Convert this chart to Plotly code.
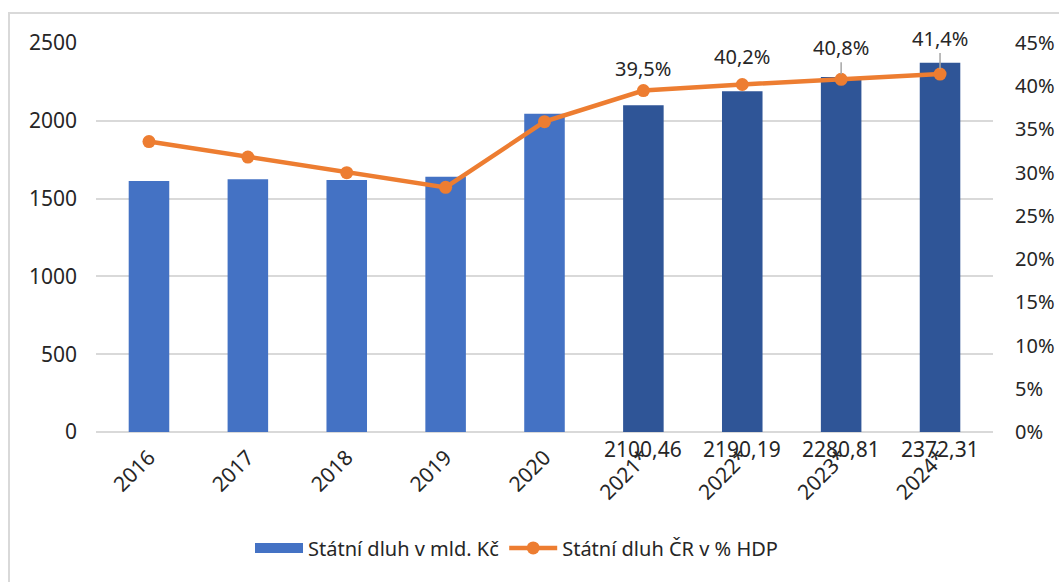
import plotly.graph_objects as go

years = ["2016", "2017", "2018", "2019", "2020", "2021*", "2022*", "2023*", "2024*"]
debt_bn = [1613, 1625, 1620, 1640, 2045, 2100.46, 2190.19, 2280.81, 2372.31]
debt_pct = [33.6, 31.8, 30.0, 28.3, 35.9, 39.5, 40.2, 40.8, 41.4]
forecast = [False, False, False, False, False, True, True, True, True]

bar_name = "Státní dluh v mld. Kč"
line_name = "Státní dluh ČR v % HDP"

C_BAR = "#4472C4"
C_BAR_F = "#2F5597"
C_LINE = "#ED7D31"
GRID = "#D9D9D9"
FONT = "Noto Sans"
TXT = "#262626"

fig = go.Figure()
fig.add_trace(go.Bar(
    x=years, y=debt_bn, name=bar_name, showlegend=False,
    marker=dict(color=[C_BAR_F if f else C_BAR for f in forecast], line=dict(width=0)),
    width=0.41, yaxis="y",
))
# legend proxy for the bar series (wide rectangle symbol)
fig.add_trace(go.Scatter(
    x=[None], y=[None], name=bar_name, mode="lines",
    line=dict(color=C_BAR, width=12), yaxis="y",
))
fig.add_trace(go.Scatter(
    x=years, y=debt_pct, name=line_name, mode="lines+markers",
    line=dict(color=C_LINE, width=4.5),
    marker=dict(color=C_LINE, size=13),
    yaxis="y2",
))

# bar value labels for forecast years (below axis)
for yr, v, f in zip(years, debt_bn, forecast):
    if f:
        fig.add_annotation(
            x=yr, y=0, xref="x", yref="y", text=f"{v:.2f}".replace(".", ","),
            showarrow=False, yanchor="top", yshift=-1,
            font=dict(family=FONT, size=21, color=TXT),
        )

# percentage labels
offsets = {"2021*": (-22, False), "2022*": (-28, False), "2023*": (-32, True), "2024*": (-36, True)}
for yr, p in zip(years, debt_pct):
    if yr in offsets:
        off, arrow = offsets[yr]
        txt = f"{p:.1f}%".replace(".", ",")
        if arrow:
            fig.add_annotation(
                x=yr, y=p, xref="x", yref="y2", text=txt,
                showarrow=True, arrowhead=0, arrowwidth=1.5, arrowcolor="#A6A6A6",
                ax=0, ay=off, standoff=5,
                font=dict(family=FONT, size=20, color=TXT),
            )
        else:
            fig.add_annotation(
                x=yr, y=p, xref="x", yref="y2", text=txt,
                showarrow=False, yshift=-off,
                font=dict(family=FONT, size=20, color=TXT),
            )

# chart border
fig.add_shape(type="rect", xref="paper", yref="paper",
              x0=(9 - 96) / 897, x1=1.3, y0=-0.6, y1=(432 - 13) / 389,
              line=dict(color=GRID, width=2), layer="below")

fig.update_layout(
    width=1059, height=582,
    margin=dict(l=96, r=66, t=43, b=150, autoexpand=False),
    paper_bgcolor="white", plot_bgcolor="white",
    font=dict(family=FONT, size=21, color=TXT),
    bargap=0.59,
    showlegend=True,
    legend=dict(orientation="h", x=(250 - 96) / 897, xanchor="left", y=-0.298, yanchor="middle",
                font=dict(family=FONT, size=20, color=TXT),
                traceorder="normal", itemsizing="trace", itemwidth=48),
    xaxis=dict(tickangle=-45, showgrid=False, showline=False, ticks="", automargin=False,
               ticklabelstandoff=8,
               tickfont=dict(family=FONT, size=21, color=TXT)),
    yaxis=dict(range=[0, 2500], dtick=500, showgrid=True, gridcolor=GRID, gridwidth=1.5,
               zeroline=True, zerolinecolor=GRID, zerolinewidth=1.5, automargin=False,
               ticks="", ticklabelstandoff=18,
               tickfont=dict(family=FONT, size=21, color=TXT)),
    yaxis2=dict(range=[0, 45], dtick=5, overlaying="y", side="right", showgrid=False,
                zeroline=False, ticksuffix="%", ticks="", ticklabelstandoff=21, automargin=False,
                tickfont=dict(family=FONT, size=20, color=TXT)),
)

fig.write_html(
    "out.html",
    config={"displayModeBar": False},
    post_script="document.body.style.margin='0';document.body.style.overflow='hidden';",
)
